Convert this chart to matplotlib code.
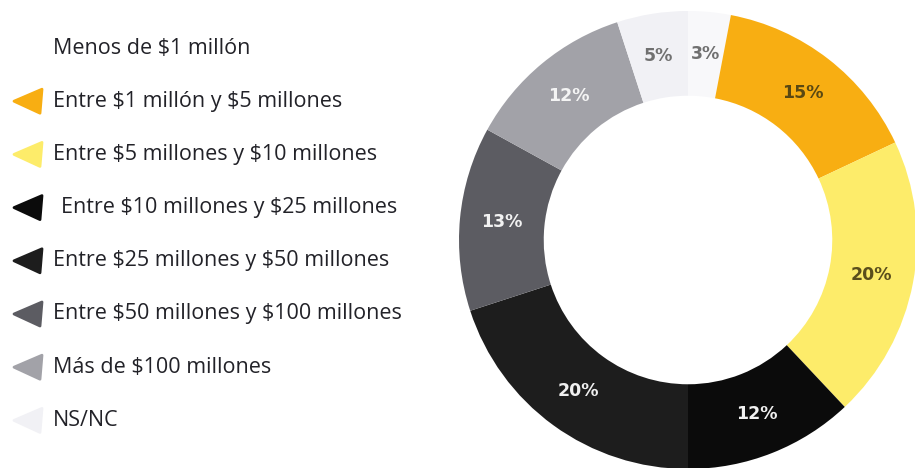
import matplotlib
matplotlib.use("Agg")
import matplotlib.pyplot as plt
from matplotlib.patches import Polygon
import numpy as np

plt.rcParams["text.parse_math"] = False

# Distribution of companies by annual revenue
categories = [
    "Menos de $1 millón",
    "Entre $1 millón y $5 millones",
    "Entre $5 millones y $10 millones",
    "Entre $10 millones y $25 millones",
    "Entre $25 millones y $50 millones",
    "Entre $50 millones y $100 millones",
    "Más de $100 millones",
    "NS/NC",
]
shares = [3, 15, 20, 12, 20, 13, 12, 5]
labels = [f"{v}%" for v in shares]

colors = ["#f8f8fa", "#f8ae12", "#fdec6a", "#0b0b0b",
          "#1d1d1d", "#5c5c62", "#a2a2a8", "#f1f1f5"]
label_colors = ["#707070", "#5a4812", "#5a4e1c", "#f0f0f0",
                "#f0f0f0", "#f2f2f2", "#f4f4f4", "#707070"]

W, H, DPI = 915, 468, 100
fig = plt.figure(figsize=(W / DPI, H / DPI), dpi=DPI)
fig.patch.set_facecolor("white")

# Donut chart
cx, cy, R = 688, 240, 229
ax = fig.add_axes([(cx - R) / W, (H - cy - R) / H, 2 * R / W, 2 * R / H])
ring = 0.37
wedges, _ = ax.pie(shares, colors=colors, startangle=90, counterclock=False,
                   radius=1.0, wedgeprops=dict(width=ring, linewidth=0))
r_lab = 1.0 - ring / 2
for w, lab, c in zip(wedges, labels, label_colors):
    ang = np.deg2rad((w.theta1 + w.theta2) / 2)
    ax.text(r_lab * np.cos(ang), r_lab * np.sin(ang), lab, ha="center",
            va="center", fontsize=12.5, fontweight="bold", color=c,
            family="DejaVu Sans")
ax.set_xlim(-1, 1)
ax.set_ylim(-1, 1)
ax.set_aspect("equal")
ax.axis("off")

# Legend with wedge-shaped markers
lg = fig.add_axes([0, 0, 1, 1])
lg.set_xlim(0, W)
lg.set_ylim(H, 0)
lg.axis("off")
y0, dy = 48, 53.2
for i, (name, col) in enumerate(zip(categories, colors)):
    y = y0 + i * dy
    if i != 0:
        lg.add_patch(Polygon([(14, y), (42, y - 12), (40, y + 12)],
                             closed=True, facecolor=col, edgecolor=col,
                             linewidth=2, joinstyle="round"))
    tx = 61 if i == 3 else 53
    lg.text(tx, y, name, ha="left", va="center", fontsize=15.5,
            color="#222228", family="Open Sans")

fig.savefig("out.png", dpi=DPI, facecolor="white")
